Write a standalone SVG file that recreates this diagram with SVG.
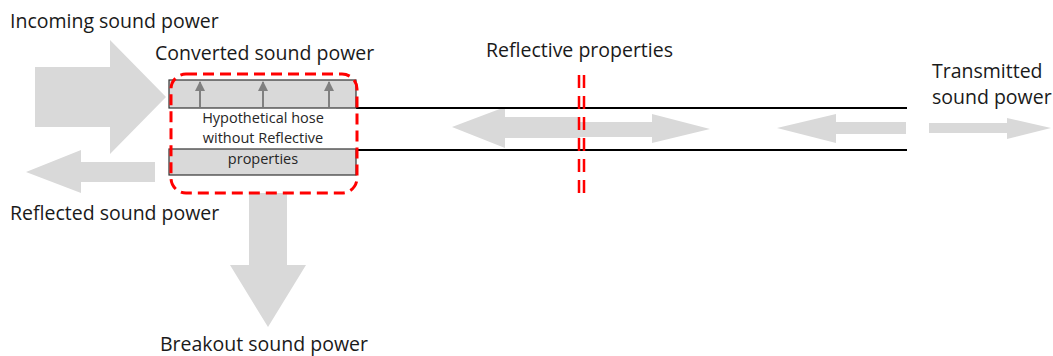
<svg xmlns="http://www.w3.org/2000/svg" width="1053" height="356" viewBox="0 0 1053 356">
<style>
.lbl{font-family:"Open Sans","Liberation Sans",sans-serif;font-size:19.5px;fill:#1a1a1a}
.sm{font-family:"Open Sans","Liberation Sans",sans-serif;font-size:14.5px;fill:#262626;text-anchor:middle}
.flow{fill:#d9d9d9;stroke:none}
.hose{fill:#d9d9d9;stroke:#333;stroke-width:1.2}
.wall{stroke:#000;stroke-width:2;fill:none}
.conv{stroke:#808080;stroke-width:2;fill:none;marker-end:url(#ah)}
.red{fill:none;stroke:#ff0000;stroke-width:3;stroke-dasharray:11 6}
.redv{fill:none;stroke:#ff0000;stroke-width:2.5;stroke-dasharray:13 8}
</style>
<defs>
<marker id="ah" viewBox="0 0 10 10" refX="9" refY="5" markerWidth="10" markerHeight="10" orient="auto" markerUnits="userSpaceOnUse">
<path d="M0,0 L10,5 L0,10 z" fill="#808080"/>
</marker>
</defs>
<g id="connectors">
<path class="flow" d="M35,67 H110 V40 L166,97 L110,154 V127 H35 z"/>
<path class="flow" d="M155,162 H81 V150 L26,172 L81,193 V182 H155 z"/>
<path class="flow" d="M249,193 H287 V265 H306 L268,327 L230,265 H249 z"/>
<path class="flow" d="M580,117 H505 V107 L452,127 L505,148 V138 H580 z"/>
<path class="flow" d="M580,122 H652 V114 L710,129 L652,143 V137 H580 z"/>
<path class="flow" d="M906,122 H836 V114 L777,128 L836,143 V134 H906 z"/>
<path class="flow" d="M929,123 H1007 V118 L1051,128 L1007,139 V133 H929 z"/>
<line class="wall" x1="356" y1="108" x2="907" y2="108"/>
<line class="wall" x1="356" y1="150" x2="907" y2="150"/>
</g>
<g id="hose">
<rect class="hose" x="169" y="80" width="187" height="28"/>
<rect class="hose" x="169" y="149" width="187" height="26"/>
<line class="conv" x1="200" y1="107" x2="200" y2="82"/>
<line class="conv" x1="263" y1="107" x2="263" y2="82"/>
<line class="conv" x1="329" y1="107" x2="329" y2="82"/>
<text class="sm" x="263" y="123">Hypothetical hose</text>
<text class="sm" x="263" y="143">without Reflective</text>
<text class="sm" x="263" y="164">properties</text>
<rect class="red" x="171" y="74" width="186" height="119" rx="15" ry="15"/>
</g>
<g id="reflective">
<line class="redv" x1="579" y1="75" x2="579" y2="193"/>
<line class="redv" x1="584" y1="75" x2="584" y2="193"/>
<text class="lbl" x="486" y="57">Reflective properties</text>
</g>
<g id="labels">
<text class="lbl" x="10" y="28">Incoming sound power</text>
<text class="lbl" x="155" y="60">Converted sound power</text>
<text class="lbl" x="10" y="220">Reflected sound power</text>
<text class="lbl" x="160" y="351">Breakout sound power</text>
<text class="lbl" x="932" y="78">Transmitted</text>
<text class="lbl" x="932" y="104">sound power</text>
</g>
</svg>
